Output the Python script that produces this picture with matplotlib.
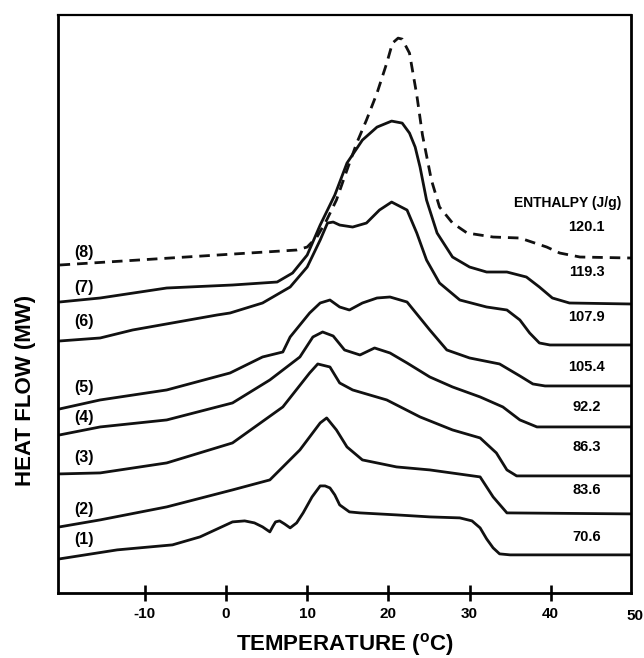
import matplotlib
matplotlib.use("Agg")
import matplotlib.pyplot as plt
import numpy as np

# temperature (deg C) and heat flow (arbitrary units)
t8 = [-20.5, 8.7, 10.0, 11.2, 12.4, 13.6, 14.9, 16.1, 17.3, 18.6, 19.8, 20.5, 21.2, 21.7,
      22.6, 23.5, 24.2, 25.3, 26.3, 27.9, 29.7, 32.9, 36.2, 39.5, 41.1, 43.6, 49.9]
hf8 = [328, 343, 346, 356, 373, 393, 423, 450, 473, 500, 530, 550, 555, 554,
       540, 498, 458, 413, 386, 370, 360, 356, 355, 346, 340, 336, 335]

t7 = [-20.5, -15.5, -7.3, 0.8, 6.3, 8.2, 10.0, 11.6, 13.4, 14.9, 16.8, 18.6, 20.4, 21.7,
      22.6, 23.3, 23.9, 24.7, 26.0, 27.9, 30.0, 32.1, 34.6, 37.0, 38.6, 40.2, 42.3, 49.9]
hf7 = [291, 295, 305, 308, 311, 320, 338, 368, 398, 430, 453, 466, 472, 470,
       460, 446, 426, 393, 360, 336, 326, 321, 321, 316, 306, 295, 290, 289]

t6 = [-20.5, -15.5, -11.5, -1.1, 0.5, 4.5, 7.9, 10.0, 11.6, 12.5, 13.2, 14.0, 15.6, 17.3,
      18.9, 20.4, 22.3, 23.5, 24.7, 26.3, 28.8, 32.1, 34.6, 36.2, 37.4, 38.6, 39.9, 49.9]
hf6 = [252, 255, 263, 278, 280, 290, 306, 326, 353, 370, 371, 368, 366, 370,
       383, 391, 383, 360, 333, 310, 293, 286, 283, 273, 260, 250, 248, 248]

t5 = [-20.5, -15.5, -7.3, 0.5, 4.5, 7.0, 7.9, 10.3, 11.6, 12.8, 14.0, 15.2, 16.8, 18.6,
      20.2, 22.3, 23.9, 25.1, 27.2, 30.0, 33.7, 36.2, 37.8, 39.3, 49.9]
hf5 = [184, 193, 203, 220, 236, 241, 256, 280, 290, 293, 286, 283, 290, 295,
       296, 291, 275, 263, 243, 235, 229, 217, 209, 207, 207]

t4 = [-20.5, -15.5, -7.3, 0.8, 5.4, 9.1, 10.7, 11.9, 13.2, 14.6, 16.5, 18.3, 20.2, 22.3,
      25.1, 27.9, 31.3, 34.1, 36.2, 38.3, 49.9]
hf4 = [158, 166, 173, 190, 213, 236, 256, 261, 257, 243, 238, 245, 240, 230,
       216, 206, 196, 186, 173, 166, 166]

t3 = [-20.5, -15.5, -7.3, 0.8, 7.0, 10.3, 11.3, 12.8, 14.0, 15.6, 19.8, 23.9, 27.9, 31.3,
      33.3, 34.6, 35.8, 49.9]
hf3 = [119, 120, 130, 150, 186, 220, 229, 226, 210, 203, 193, 176, 163, 155,
       140, 123, 117, 117]

t2 = [-20.5, -15.5, -7.3, 0.8, 5.4, 9.1, 11.6, 12.4, 13.6, 14.9, 16.8, 21.0, 25.1, 31.3,
      32.9, 34.6, 49.9]
hf2 = [66, 73, 86, 103, 113, 143, 170, 175, 163, 146, 133, 126, 123, 116,
       96, 80, 79]

t1 = [-20.5, -13.4, -6.6, -3.2, 0.8, 2.3, 3.5, 4.5, 5.4, 5.8, 6.1, 6.6, 7.2, 7.9, 8.7,
      9.5, 10.6, 11.6, 12.2, 12.8, 13.4, 14.0, 15.2, 16.5, 21.0, 25.1, 28.8, 30.3, 31.3,
      32.1, 32.9, 33.7, 35.0, 49.9]
hf1 = [34, 43, 48, 56, 71, 72, 70, 66, 61, 67, 71, 72, 69, 65, 70,
       80, 96, 107, 107, 105, 98, 88, 81, 80, 78, 76, 75, 72, 65,
       54, 45, 39, 38, 38]

curve_labels = ["(1)", "(2)", "(3)", "(4)", "(5)", "(6)", "(7)", "(8)"]
enthalpy = ["70.6", "83.6", "86.3", "92.2", "105.4", "107.9", "119.3", "120.1"]

xticks = [-10, 0, 10, 20, 30, 40]

plt.rcParams['font.family'] = ['Liberation Sans', 'DejaVu Sans']
plt.rcParams['font.weight'] = 'bold'


def main():
    fig = plt.figure(figsize=(6.44, 6.58), dpi=100)
    ax = fig.add_axes([0.090, 0.099, 0.890, 0.878])

    curves = [(t1, hf1), (t2, hf2), (t3, hf3), (t4, hf4),
              (t5, hf5), (t6, hf6), (t7, hf7)]
    for t, hf in curves:
        ax.plot(t, hf, color="#111111", lw=2.0, solid_joinstyle="round",
                solid_capstyle="round")
    ax.plot(t8, hf8, color="#111111", lw=2.0, dashes=(3.8, 2.5),
            dash_joinstyle="round")

    # curve numbers on the left, enthalpy values on the right
    lab_y = [53, 83, 135, 175, 205, 271, 306, 341]
    for lab, y in zip(curve_labels, lab_y):
        ax.text(-18.7, y, lab, fontsize=11.5, fontweight="bold", va="center", ha="left")
    ent_y = [56, 103, 146, 186, 226, 276, 321, 366]
    for val, y in zip(enthalpy, ent_y):
        ax.text(44.4, y, val, fontsize=10.5, fontweight="bold", va="center", ha="center")
    ax.text(42.1, 390, "ENTHALPY (J/g)", fontsize=10, fontweight="bold",
            va="center", ha="center")

    ax.set_xlim(-20.7, 49.9)
    ax.set_ylim(0, 578)
    ax.set_xticks(xticks)
    ax.set_xticklabels([str(v) for v in xticks], fontsize=11, fontweight="bold")
    ax.set_yticks([])
    ax.tick_params(axis="x", direction="inout", length=11, width=1.9, pad=5)
    ax.text(50.4, -0.04, "50", transform=ax.get_xaxis_transform(), fontsize=11,
            fontweight="bold", ha="center", va="center")

    for s in ax.spines.values():
        s.set_linewidth(2.0)
    ax.spines["top"].set_linewidth(1.6)

    fig.text(0.536, 0.020, "TEMPERATURE ($^{\\mathregular{o}}$C)", fontsize=16,
             fontweight="bold", ha="center", va="center")
    fig.text(0.039, 1 - 390 / 658, "HEAT FLOW (MW)", fontsize=16, fontweight="bold",
             ha="center", va="center", rotation=90)

    fig.savefig("out.png", dpi=100)


if __name__ == "__main__":
    main()
